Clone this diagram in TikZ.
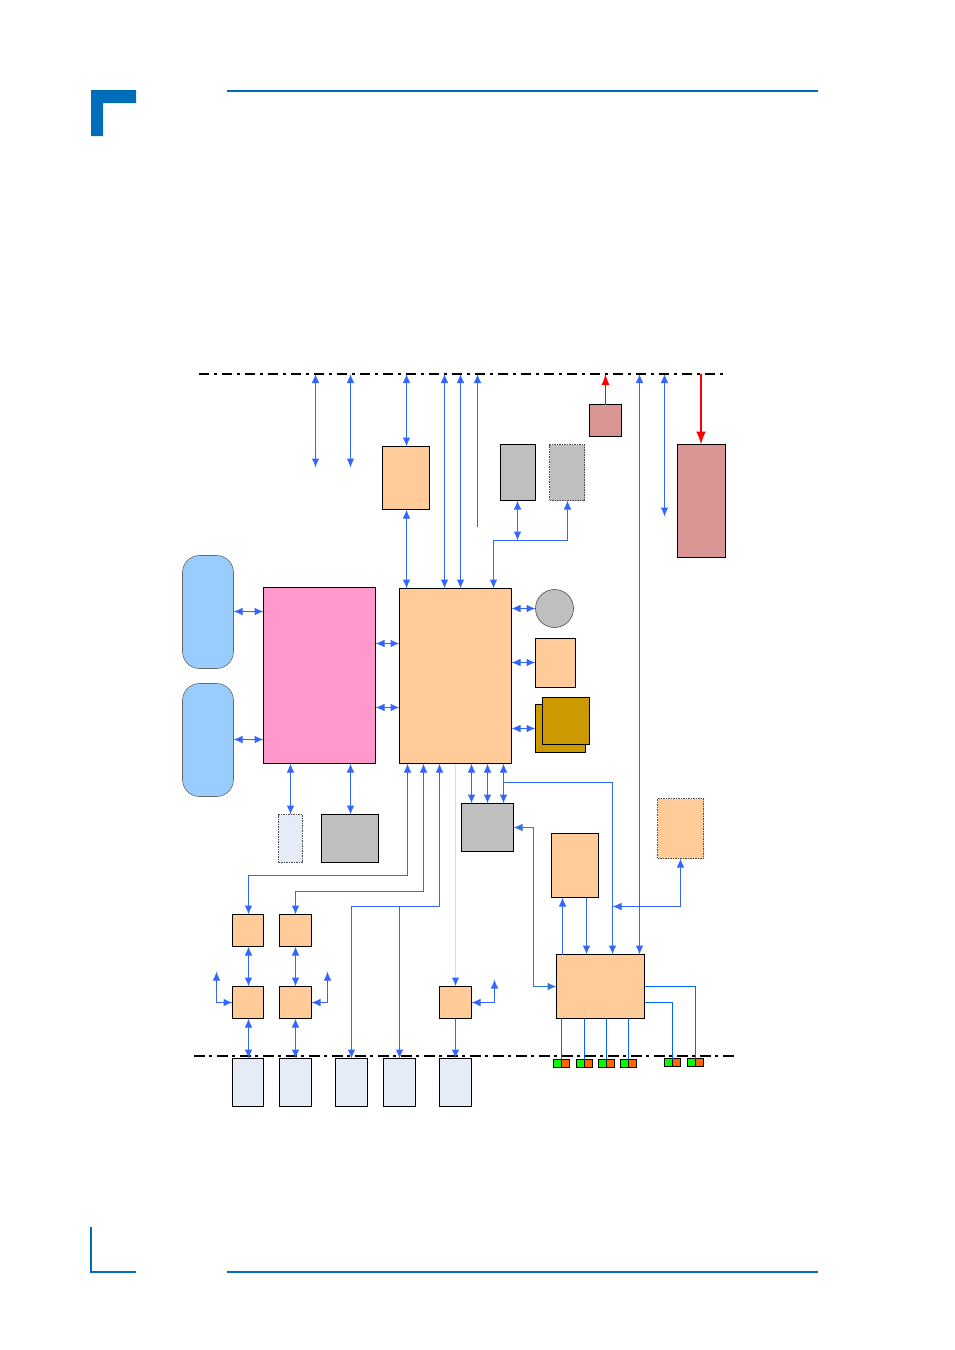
\documentclass[tikz,border=0pt]{standalone}
\usetikzlibrary{arrows.meta}

\definecolor{linkblue}{HTML}{3366FF}
\definecolor{feedblue}{HTML}{0066FF}
\definecolor{backblue}{HTML}{3375D6}
\definecolor{ruleblue}{HTML}{006DBB}
\definecolor{peach}{HTML}{FFCC99}
\definecolor{rose}{HTML}{D99694}
\definecolor{chipgray}{HTML}{BFBFBF}
\definecolor{paleblue}{HTML}{E6ECF7}
\definecolor{faintblue}{HTML}{D0DEF8}
\definecolor{sky}{HTML}{99CCFF}
\definecolor{pinkchip}{HTML}{FF99CC}
\definecolor{gold}{HTML}{CC9900}
\definecolor{ledorange}{HTML}{FF6600}

\tikzset{
  block/.style={draw,line width=0.9pt,inner sep=0pt,outer sep=0pt},
  ghost/.style={block,draw=black!70,dash pattern=on 1.5pt off 1pt},
  link/.style={linkblue,line width=1pt},
  feed/.style={feedblue,line width=1pt},
  bus/.style={line width=1.5pt,dash pattern=on 10.5pt off 4.5pt on 3pt off 5pt},
}

\begin{document}
\begin{tikzpicture}[x=1pt,y=-1pt,>={Latex[length=9pt,width=7.5pt]}]
  \useasboundingbox (0,0) rectangle (954,1350);

  % page furniture
  \fill[ruleblue] (91,90) -- (136,90) -- (136,103) -- (103,103) -- (103,136) -- (91,136) -- cycle;
  \draw[ruleblue,line width=1.8pt] (227,91) -- (818,91);
  \draw[ruleblue,line width=1.4pt] (91,1227) -- (91,1272) -- (136,1272);
  \draw[ruleblue,line width=1.8pt] (227,1272) -- (818,1272);

  \begin{scope}[shift={(0.5,0.5)}]
  % the two dash-dotted lines
  \coordinate (topL) at (198,373.5);
  \coordinate (topR) at (722,373.5);
  \coordinate (lowL) at (193.5,1055.5);
  \coordinate (lowR) at (734,1055.5);
  \draw[bus] (topL) -- (topR);
  \draw[bus] (lowL) -- (lowR);

  % large blocks
  \node[block,fill=peach,minimum width=112pt,minimum height=175pt] (hub) at (455,675.5) {};
  \node[block,fill=pinkchip,minimum width=112pt,minimum height=176pt] (north) at (319,675) {};
  \node[block,draw=black!60,line width=0.6pt,fill=sky,rounded corners=17pt,minimum width=51pt,minimum height=113pt] (ramA) at (207.5,611.5) {};
  \node[block,draw=black!60,line width=0.6pt,fill=sky,rounded corners=17pt,minimum width=51pt,minimum height=113pt] (ramB) at (207.5,739.5) {};

  % above the hub
  \node[block,fill=peach,minimum width=47pt,minimum height=63pt] (topport) at (405.5,477.5) {};
  \node[block,fill=chipgray,minimum width=35pt,minimum height=56pt] (slotA) at (517.5,472) {};
  \node[ghost,fill=chipgray,minimum width=35pt,minimum height=56pt] (slotB) at (566.5,472) {};
  \node[block,fill=rose,minimum width=32pt,minimum height=32pt] (fuse) at (605,420) {};
  \node[block,fill=rose,minimum width=48pt,minimum height=113pt] (supply) at (701,500.5) {};

  % right of the hub
  \node[block,draw=black!70,line width=0.6pt,fill=chipgray,circle,minimum size=38pt] (disc) at (554,608) {};
  \node[block,fill=peach,minimum width=40pt,minimum height=49pt] (sidebox) at (555,662.5) {};
  \node[block,fill=gold,minimum width=50pt,minimum height=48pt] (flashB) at (560,728) {};
  \node[block,fill=gold,minimum width=47pt,minimum height=47pt] (flashA) at (565.5,720.5) {};

  % below the chips
  \node[ghost,fill=paleblue,minimum width=24pt,minimum height=48pt] (optcard) at (290,838) {};
  \node[block,fill=chipgray,minimum width=57pt,minimum height=48pt] (video) at (349.5,838) {};
  \node[block,fill=chipgray,minimum width=52pt,minimum height=48pt] (bridge) at (487,827) {};
  \node[block,fill=peach,minimum width=47pt,minimum height=64pt] (ctrl) at (574.5,865) {};
  \node[ghost,fill=peach,minimum width=46pt,minimum height=60pt] (optctrl) at (680,828) {};
  \node[block,fill=peach,minimum width=88pt,minimum height=64pt] (nic) at (600,986) {};

  % small blocks and front connectors
  \foreach \x/\w/\n in {247.5/31/A,295/32/B} {
    \node[block,fill=peach,minimum width=\w pt,minimum height=32pt] (phy\n) at (\x,930) {};
    \node[block,fill=peach,minimum width=\w pt,minimum height=32pt] (mux\n) at (\x,1002) {};
  }
  \node[block,fill=peach,minimum width=32pt,minimum height=32pt] (muxC) at (455,1002) {};
  \foreach \x/\w/\n in {247.5/31/A,295/32/B,351/32/C,399/32/D,455/32/E}
    \node[block,fill=paleblue,minimum width=\w pt,minimum height=48pt] (jack\n) at (\x,1082) {};

  % link leds
  \foreach \x/\y/\n in {553/1063/1,576/1063/2,598/1063/3,620/1063/4,664/1062/5,687/1062/6} {
    \node[block,fill=green,minimum width=8pt,minimum height=8pt] (ledg\n) at (\x+4,\y) {};
    \node[block,fill=ledorange,minimum width=8pt,minimum height=8pt] (ledo\n) at (\x+12,\y) {};
  }

  % free ends
  \coordinate (endA) at (315,467);
  \coordinate (endB) at (350,467);
  \coordinate (endC) at (477,526);
  \coordinate (endD) at (664,516);
  \coordinate (endE) at (216,971);
  \coordinate (endF) at (327,971);
  \coordinate (endG) at (494,979);
  \coordinate (kneeA) at (517,540);
  \coordinate (kneeB) at (612,906);

  % to the upper line
  \draw[link,<->] (endA |- topL) -- (endA);
  \draw[link,<->] (endB |- topL) -- (endB);
  \draw[link,<->] (406,0 |- topL) -- (406,0 |- topport.north);
  \draw[link,<->] (406,0 |- topport.south) -- (406,0 |- hub.north);
  \draw[link,<->] (444,0 |- topL) -- (444,0 |- hub.north);
  \draw[link,<->] (460,0 |- topL) -- (460,0 |- hub.north);
  \draw[link,<-] (endC |- topL) -- (endC);
  \draw[link,<->] (endD |- topL) -- (endD);
  \draw[link,<->] (639,0 |- topL) -- (639,0 |- nic.north);
  \draw[red,line width=1pt,-{Latex[length=11pt,width=8pt]}] (fuse.north) -- (fuse.north |- topL);
  \draw[red,line width=2pt,-{Latex[length=13pt,width=10pt]}] (700.5,0 |- topL) -- (700.5,0 |- supply.north);

  % the slots
  \draw[link,<->] (517,0 |- slotA.south) -- (kneeA);
  \draw[link,<->] (567,0 |- slotB.south) -- (567,0 |- kneeA) -- (493,0 |- kneeA) -- (493,0 |- hub.north);

  % around the two large blocks
  \draw[link,<->] (ramA.east |- 0,611) -- (north.west |- 0,611);
  \draw[link,<->] (ramB.east |- 0,739) -- (north.west |- 0,739);
  \draw[link,<->] (north.east |- 0,643) -- (hub.west |- 0,643);
  \draw[link,<->] (north.east |- 0,707) -- (hub.west |- 0,707);
  \draw[link,<->] (hub.east |- disc.west) -- (disc.west);
  \draw[link,<->] (hub.east |- 0,662) -- (sidebox.west |- 0,662);
  \draw[link,<->] (hub.east |- flashB.west) -- (flashB.west);
  \draw[link,<->] (optcard.north |- north.south) -- (optcard.north);
  \draw[link,<->] (350,0 |- north.south) -- (350,0 |- video.north);

  % hub down to the small blocks
  \draw[link,<->] (407,0 |- hub.south) -- (407,875) -- (248,875) -- (248,0 |- phyA.north);
  \draw[link,<->] (423,0 |- hub.south) -- (423,891) -- (295,891) -- (phyB.north);
  \draw[link,<->] (439,0 |- hub.south) -- (439,906) -- (351,906) -- (jackC.north);
  \draw[link,->] (399,906) -- (jackD.north);
  \draw[faintblue,line width=1.6pt,-{Latex[length=9pt,width=7.5pt,color=linkblue]}] (muxC.north |- hub.south) -- (muxC.north);
  \draw[link,->] (muxC.south) -- (muxC.south |- jackE.north);
  \foreach \x in {471,487,503}
    \draw[link,<->] (\x,0 |- hub.south) -- (\x,0 |- bridge.north);
  \draw[link,->] (503,782) -- (612,782) -- (612,0 |- nic.north);

  % bridge and controller
  \draw[backblue,line width=1pt,<->] (bridge.east) -- (533,0 |- bridge.east) -- (533,0 |- nic.west) -- (nic.west);
  \draw[link,->] (562,0 |- nic.north) -- (562,0 |- ctrl.south);
  \draw[link,->] (586,0 |- ctrl.south) -- (586,0 |- nic.north);
  \draw[link,<->] (optctrl.south) -- (optctrl.south |- kneeB) -- (kneeB);

  % small block columns
  \foreach \x/\n in {248/A,295/B} {
    \draw[link,<->] (\x,0 |- phy\n.south) -- (\x,0 |- mux\n.north);
    \draw[link,<->] (\x,0 |- mux\n.south) -- (\x,0 |- jack\n.north);
  }
  \draw[link,<->] (endE) -- (endE |- muxA.west) -- (muxA.west);
  \draw[link,<->] (endF) -- (endF |- muxB.east) -- (muxB.east);
  \draw[link,<->] (endG) -- (endG |- muxC.east) -- (muxC.east);

  % leds
  \foreach \n in {1,...,4}
    \draw[feed] (ledg\n.north east |- nic.south) -- (ledg\n.north east);
  \draw[feed] (nic.east) -- (ledg6.north east |- nic.east) -- (ledg6.north east);
  \draw[feed] (nic.east |- 0,1002) -- (ledg5.north east |- 0,1002) -- (ledg5.north east);
  \end{scope}
\end{tikzpicture}
\end{document}
